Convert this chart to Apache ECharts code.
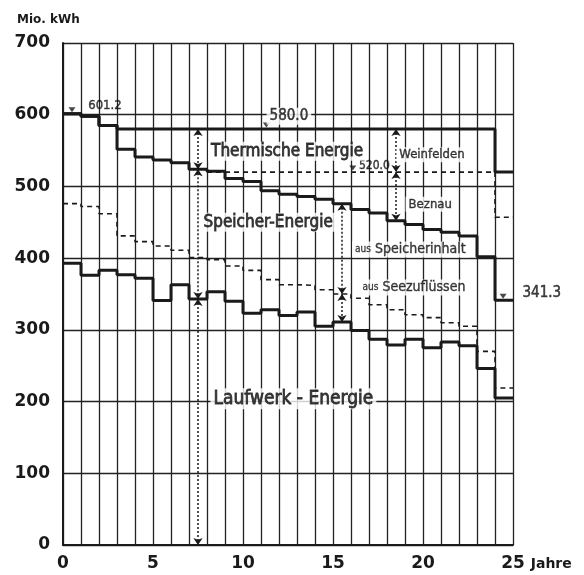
<!DOCTYPE html>
<html>
<head>
<meta charset="utf-8">
<title>Energie</title>
<script src="https://cdn.jsdelivr.net/npm/echarts@6/dist/echarts.min.js"></script>
<style>
  html, body { margin: 0; padding: 0; background: #fff; }
  #chart { width: 584px; height: 575px; }
</style>
</head>
<body>
<div id="chart"></div>
<script>
// Jahr (Beginn des Intervalls)
const jahre = [0, 1, 2, 3, 4, 5, 6, 7, 8, 9, 10, 11, 12, 13, 14, 15, 16, 17, 18, 19, 20, 21, 22, 23, 24];

// Gesamt (obere Kurve, inkl. thermische Energie)
const gesamt = [601.2, 598, 585, 580, 580, 580, 580, 580, 580, 580, 580, 580, 580,
  580, 580, 580, 580, 580, 580, 580, 580, 580, 580, 580, 520];
// Grenze Weinfelden / Beznau
const weinfelden = [null, null, null, null, null, null, null, null, 520, 520, 520, 520, 520,
  520, 520, 520, 520, 520, 520, 520, 520, 520, 520, 520, 457];
// Laufwerk + Speicher
const speicher = [601.2, 598, 585, 552, 541, 537, 533, 524, 521, 511, 507, 494, 489,
  486, 482, 476, 468, 463, 452, 447, 440, 436, 431, 402, 341.3];
// Grenze Speicherinhalt / Seezuflüsse
const seezufluss = [476, 472, 462, 431, 423, 417, 411, 401, 398, 389, 383, 370, 363,
  362, 356, 350, 344, 335, 328, 321, 317, 310, 305, 270, 219];
// Laufwerk-Energie
const laufwerk = [393, 376, 383, 377, 372, 341, 363, 343, 353, 340, 323, 328, 320,
  325, 305, 311, 299, 287, 279, 287, 275, 283, 278, 246, 205];

// kleine Dreiecke an den Kurven
const marken = [[0.5, 601.2], [11.3, 580], [16.1, 520], [24.45, 341.3]];

// Doppelpfeile: [x, von, bis]
const pfeile = [
  [7.5, 580, 524], [7.5, 524, 343], [7.5, 343, 0],
  [15.5, 476, 350], [15.5, 350, 311],
  [18.5, 580, 520], [18.5, 520, 452]
];

const ink = '#1a1a1a';
const narrow = "'Liberation Sans Narrow','DejaVu Sans Condensed',sans-serif";
const bold = "'DejaVu Sans',sans-serif";

function stufen(values) {
  const pts = jahre.map((j, i) => [j, values[i] == null ? '-' : values[i]]);
  pts.push([jahre[jahre.length - 1] + 1, values[values.length - 1]]);
  return pts;
}

function txt(x, y, text, size, stroke, bg) {
  return {
    value: [x, y],
    label: {
      formatter: text, fontSize: size,
      textBorderColor: '#111', textBorderWidth: stroke,
      backgroundColor: bg === false ? 'transparent' : '#fff'
    }
  };
}

const chart = echarts.init(document.getElementById('chart'));

const option = {
  backgroundColor: '#fff',
  animation: false,
  title: {
    text: 'Mio. kWh',
    left: 12, top: 9,
    textStyle: { fontFamily: bold, fontWeight: 'bold', fontSize: 12, color: ink }
  },
  grid: { left: 63, right: 71, top: 43, bottom: 30 },
  xAxis: {
    type: 'value', min: 0, max: 25, interval: 1,
    name: 'Jahre', nameLocation: 'end', nameGap: 12,
    nameTextStyle: {
      fontFamily: bold, fontWeight: 'bold', fontSize: 14, color: ink,
      verticalAlign: 'top', padding: [12, 0, 0, 0]
    },
    axisLine: { lineStyle: { color: ink, width: 2 } },
    axisTick: { show: false },
    axisLabel: {
      formatter: v => (v % 5 === 0 ? String(v) : ''),
      fontFamily: bold, fontWeight: 'bold', fontSize: 17, color: ink, margin: 10
    },
    splitLine: { show: true, lineStyle: { color: '#222', width: 1.3 } }
  },
  yAxis: {
    type: 'value', min: 0, max: 700, interval: 100,
    axisLine: { show: true, lineStyle: { color: ink, width: 2 } },
    axisTick: { show: false },
    axisLabel: { fontFamily: bold, fontWeight: 'bold', fontSize: 17, color: ink, margin: 13 },
    splitLine: { show: true, lineStyle: { color: '#222', width: 1.3 } }
  },
  series: [
    {
      name: 'gesamt', type: 'line', step: 'end', data: stufen(gesamt),
      showSymbol: false, z: 5,
      lineStyle: { color: ink, width: 3 }
    },
    {
      name: 'speicher', type: 'line', step: 'end', data: stufen(speicher),
      showSymbol: false, z: 5,
      lineStyle: { color: ink, width: 3 }
    },
    {
      name: 'laufwerk', type: 'line', step: 'end', data: stufen(laufwerk),
      showSymbol: false, z: 5,
      lineStyle: { color: ink, width: 3 }
    },
    {
      name: 'weinfelden', type: 'line', step: 'end', data: stufen(weinfelden),
      showSymbol: false, connectNulls: false, z: 4,
      lineStyle: { color: ink, width: 1.6, type: [5, 4] }
    },
    {
      name: 'seezufluss', type: 'line', step: 'end', data: stufen(seezufluss),
      showSymbol: false, z: 4,
      lineStyle: { color: ink, width: 1.6, type: [5, 4] }
    },
    {
      name: 'pfeile', type: 'lines', coordinateSystem: 'cartesian2d', z: 6,
      symbol: ['arrow', 'arrow'], symbolSize: 7,
      lineStyle: { color: ink, width: 1.5, type: [2, 2], opacity: 1, curveness: 0 },
      data: pfeile.map(p => ({ coords: [[p[0], p[1]], [p[0], p[2]]] }))
    },
    {
      name: 'marken', type: 'scatter', z: 7,
      symbol: 'triangle', symbolRotate: 180, symbolSize: [7, 5], symbolOffset: [0, -4],
      itemStyle: { color: ink },
      data: marken
    },
    {
      name: 'texte', type: 'scatter', z: 10, symbolSize: 0, clip: false,
      label: {
        show: true, position: 'inside', color: '#111', fontFamily: narrow,
        padding: [1, 3],
        rich: { s: { fontSize: 10, fontFamily: narrow, color: '#111', textBorderColor: '#111', textBorderWidth: 0.3 } }
      },
      data: [
        txt(2.33, 612, '601.2', 13, 0.4, false),
        txt(12.55, 598, '580.0', 15, 0.5),
        txt(17.3, 528, '520.0', 12, 0.4, false),
        txt(26.6, 351, '341.3', 15, 0.5),
        txt(12.45, 549, 'Thermische Energie', 17, 0.8),
        txt(20.5, 544, 'Weinfelden', 13, 0.4),
        txt(20.4, 475, 'Beznau', 13, 0.4),
        txt(11.4, 450, 'Speicher-Energie', 17, 0.8),
        txt(19.3, 412, '{s|aus} Speicherinhalt', 14, 0.4),
        txt(19.5, 359, '{s|aus} Seezuflüssen', 14, 0.4),
        txt(12.8, 204, 'Laufwerk - Energie', 19, 0.8)
      ]
    }
  ]
};

chart.setOption(option);
</script>
</body>
</html>
